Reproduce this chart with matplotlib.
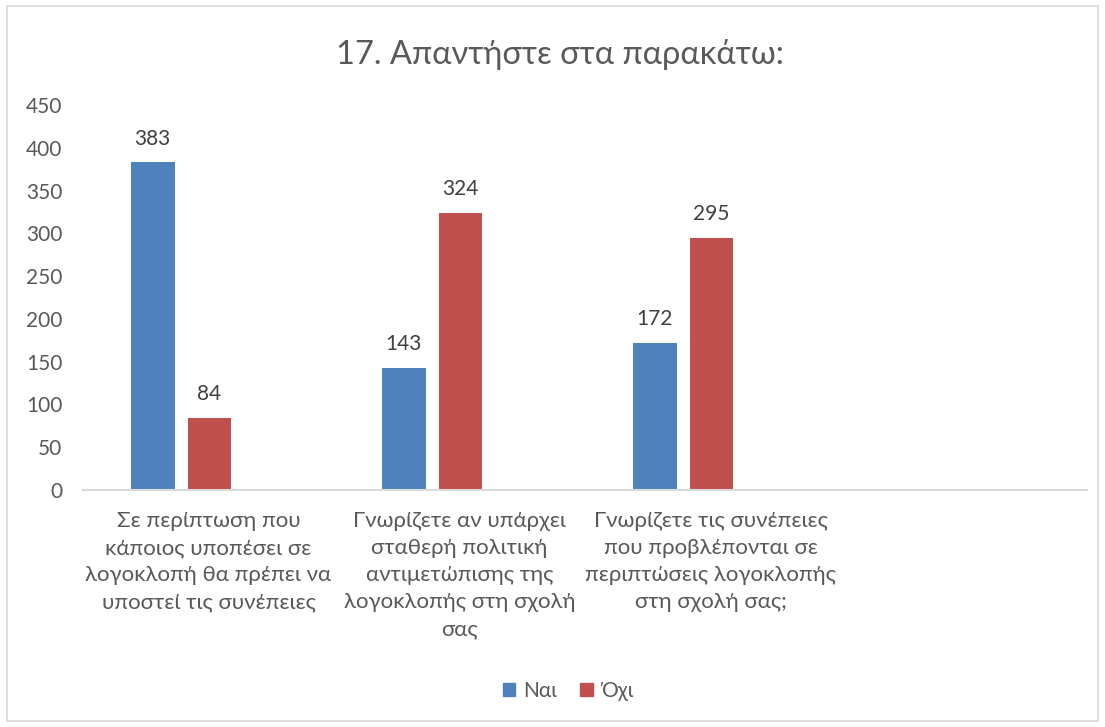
import matplotlib
matplotlib.use("Agg")
import matplotlib.pyplot as plt
from matplotlib.patches import Rectangle, Patch
import numpy as np

categories = [
    "Σε περίπτωση που\nκάποιος υποπέσει σε\nλογοκλοπή θα πρέπει να\nυποστεί τις συνέπειες",
    "Γνωρίζετε αν υπάρχει\nσταθερή πολιτική\nαντιμετώπισης της\nλογοκλοπής στη σχολή\nσας",
    "Γνωρίζετε τις συνέπειες\nπου προβλέπονται σε\nπεριπτώσεις λογοκλοπής\nστη σχολή σας;",
    "",
]
series_names = ["Ναι", "Όχι"]
yes_values = [383, 143, 172]
no_values = [84, 324, 295]
title = "17. Απαντήστε στα παρακάτω:"

plt.rcParams['font.family'] = ['Lato', 'Open Sans', 'DejaVu Sans']

W, H = 1105, 727
fig = plt.figure(figsize=(W / 100, H / 100), dpi=100)
fig.patch.set_facecolor("white")

# chart border
fig.patches.append(Rectangle((7 / W, 1 - 721 / H), (1098 - 7) / W, (721 - 6) / H,
                             transform=fig.transFigure, fill=False,
                             edgecolor="#d9d9d9", linewidth=1.2))

ax = fig.add_axes([83 / W, 1 - 490 / H, (1087 - 83) / W, (490 - 105) / H])
blue = "#4f81bd"
red = "#c0504d"
x = np.arange(len(yes_values))
bw = 0.175
b1 = ax.bar(x - 0.222, yes_values, bw, color=blue, label=series_names[0])
b2 = ax.bar(x + 0.004, no_values, bw, color=red, label=series_names[1])

for bars in (b1, b2):
    for r in bars:
        ax.text(r.get_x() + r.get_width() / 2, r.get_height() + 16, f"{int(r.get_height())}",
                ha="center", va="bottom", fontsize=15, color="#404040")

ax.set_ylim(0, 450)
ax.set_yticks(range(0, 451, 50))
ax.set_xlim(-0.5, 3.5)
ax.set_xticks(np.arange(len(categories)))
ax.set_xticklabels(categories, fontsize=16, color="#595959", linespacing=1.45)
ax.tick_params(axis="x", length=0, pad=15)
ax.tick_params(axis="y", length=0, labelsize=15, labelcolor="#595959", pad=15)
for s in ("top", "right", "left"):
    ax.spines[s].set_visible(False)
ax.spines["bottom"].set_color("#d9d9d9")
ax.spines["bottom"].set_linewidth(1.5)

fig.text(560 / W, 1 - 55 / H, title, ha="center", va="center", fontsize=23.5, color="#595959")

handles = [Patch(color=blue), Patch(color=red)]
fig.legend(handles, series_names, loc="center", bbox_to_anchor=(568 / W, 1 - 691 / H),
           ncol=2, frameon=False, fontsize=15, labelcolor="#595959",
           handlelength=0.6, handleheight=0.6, handletextpad=0.4, columnspacing=1.1)

fig.savefig("out.png", dpi=100)
